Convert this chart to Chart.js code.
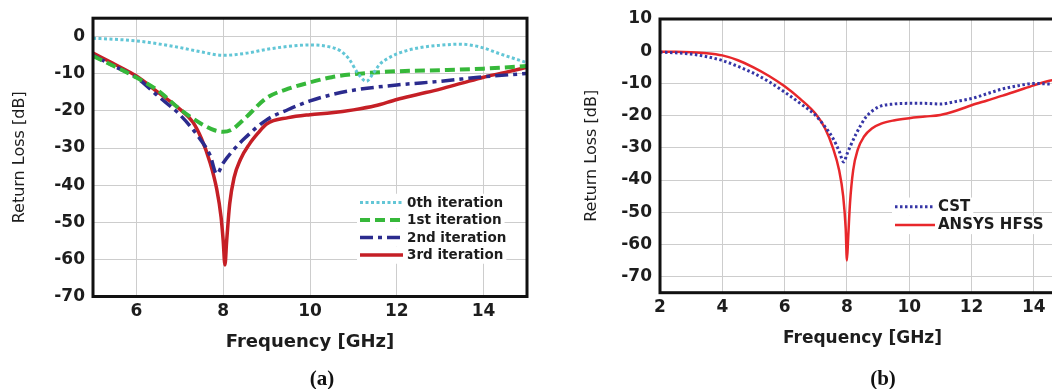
<!DOCTYPE html>
<html>
<head>
<meta charset="utf-8">
<script src="https://cdn.jsdelivr.net/npm/chart.js@4.4.0/dist/chart.umd.min.js"></script>
<style>
  html, body { margin: 0; padding: 0; background: #fff; }
  body { width: 1052px; height: 389px; overflow: hidden; position: relative; }
  canvas { position: absolute; top: 0; }
  #chartIter { left: 0; }
  #chartSolver { left: 540px; }
  .caption { position: absolute; top: 364px; width: 60px; text-align: center;
             font: bold 21px 'Liberation Serif', 'Times New Roman', serif; color: #111; line-height: 28px; }
</style>
</head>
<body>
<canvas id="chartIter" width="540" height="389"></canvas>
<canvas id="chartSolver" width="560" height="389"></canvas>
<div class="caption" style="left:292px">(a)</div>
<div class="caption" style="left:853px">(b)</div>
<script>
'use strict';

// ─── Data: return loss (dB) vs frequency (GHz) ────────────────────────────────

// (a) fractal iterations
const F_ITER0  = [5, 5.5, 6, 6.5, 7, 7.5, 8, 8.5, 9, 9.5, 10, 10.4, 10.7, 10.9, 11.1, 11.3, 11.45, 11.6, 11.8, 12.1, 12.5, 13, 13.45, 13.9, 14.4, 15];
const RL_ITER0 = [-0.4, -0.7, -1.1, -1.9, -2.9, -4.1, -5, -4.5, -3.4, -2.6, -2.2, -2.6, -3.8, -6, -9.8, -12, -10, -7.5, -5.8, -4.2, -3, -2.3, -2, -2.7, -4.7, -7];

const F_ITER1  = [5, 5.5, 6, 6.5, 7, 7.5, 7.8, 8, 8.2, 8.5, 9, 9.5, 10, 10.5, 11, 12, 13, 14, 15];
const RL_ITER1 = [-5.2, -8, -11, -14.5, -19.5, -23.5, -25.2, -25.6, -25, -22, -16.5, -14, -12.3, -10.9, -10.1, -9.3, -9, -8.6, -7.9];

const F_ITER2  = [5, 5.5, 6, 6.5, 7, 7.4, 7.7, 7.85, 8, 8.2, 8.5, 9, 9.5, 10, 10.5, 11, 12, 13, 14, 15];
const RL_ITER2 = [-5, -8, -11, -16, -21, -26.5, -32, -37, -34, -31, -27.3, -22.4, -19.6, -17.3, -15.6, -14.4, -13, -12, -10.8, -9.9];

const F_ITER3  = [5, 5.5, 6, 6.5, 7, 7.3, 7.5, 7.7, 7.85, 7.95, 8.0, 8.04, 8.08, 8.15, 8.25, 8.4, 8.6, 8.8, 9, 9.5, 10, 10.5, 11, 11.5, 12, 12.5, 13, 13.5, 14, 14.5, 15];
const RL_ITER3 = [-4.4, -7.4, -10.6, -15, -19.5, -23, -27.5, -34, -41, -48.5, -55, -61.5, -55, -45, -38, -33, -29, -26, -23.5, -21.8, -21, -20.5, -19.7, -18.6, -16.9, -15.5, -14.1, -12.5, -10.9, -9.6, -8.2];

const ITER_LABELS = ['0th iteration', '1st iteration', '2nd iteration', '3rd iteration'];

// (b) solver comparison
const F_CST  = [2, 2.5, 3, 3.5, 4, 4.5, 5, 5.5, 6, 6.5, 7, 7.3, 7.55, 7.75, 7.9, 8.0, 8.1, 8.3, 8.6, 9, 9.5, 10, 10.5, 11, 11.5, 12, 12.5, 13, 13.5, 14, 14.5, 15];
const RL_CST = [-0.3, -0.5, -0.9, -1.7, -2.9, -4.7, -6.8, -9.5, -12.7, -16.2, -20, -23.5, -27, -31, -34.4, -32, -29.7, -25.6, -20.6, -17.4, -16.4, -16.2, -16.2, -16.4, -15.6, -14.7, -13.2, -11.7, -10.7, -10, -10.2, -10.4];

const F_HFSS  = [2, 2.5, 3, 3.5, 4, 4.5, 5, 5.5, 6, 6.5, 7, 7.3, 7.55, 7.75, 7.88, 7.96, 8.0, 8.04, 8.1, 8.2, 8.35, 8.55, 8.8, 9.1, 9.5, 10, 10.5, 11, 11.5, 12, 12.5, 13, 13.5, 14, 14.5, 15];
const RL_HFSS = [-0.2, -0.2, -0.3, -0.6, -1.3, -2.8, -5, -7.7, -10.9, -14.8, -19.5, -24, -30, -37, -45, -55, -65, -58, -47, -37, -30.5, -26.5, -24, -22.5, -21.5, -20.8, -20.3, -19.8, -18.5, -16.8, -15.3, -13.8, -12.2, -10.6, -9.2, -8.2];

const SOLVER_LABELS = ['CST', 'ANSYS HFSS'];

// axis ticks
const X_TICKS_A = [6, 8, 10, 12, 14];
const Y_TICKS_A = [0, -10, -20, -30, -40, -50, -60, -70];
const X_TICKS_B = [2, 4, 6, 8, 10, 12, 14];
const Y_TICKS_B = [10, 0, -10, -20, -30, -40, -50, -60, -70];

// ─── Styling helpers ──────────────────────────────────────────────────────────

const FONT = "'DejaVu Sans', 'Liberation Sans', sans-serif";
const INK = '#1d1d1d';
const GRID = '#cdcdcd';

const toPoints = (xs, ys) => xs.map((x, i) => ({ x, y: ys[i] }));
const fixedTicks = list => scale => { scale.ticks = list.map(v => ({ value: v })); };

function series(label, xs, ys, color, width, dash) {
    return {
        label,
        data: toPoints(xs, ys),
        borderColor: color,
        backgroundColor: color,
        borderWidth: width,
        borderDash: dash,
        pointRadius: 0,
        cubicInterpolationMode: 'monotone',
        fill: false,
    };
}

// thick black box round the plot area
const plotFrame = {
    id: 'plotFrame',
    afterDatasetsDraw(chart, args, opts) {
        const { ctx, chartArea: a } = chart;
        ctx.save();
        ctx.strokeStyle = opts.color;
        ctx.lineWidth = opts.width;
        ctx.strokeRect(a.left, a.top, a.right - a.left, a.bottom - a.top);
        ctx.restore();
    }
};

// legend drawn inside the plot, each row on a white strip
const insetLegend = {
    id: 'insetLegend',
    afterDatasetsDraw(chart, args, opts) {
        const { ctx } = chart;
        const sets = chart.data.datasets;
        ctx.save();
        ctx.font = `bold ${opts.size}px ${FONT}`;
        ctx.textBaseline = 'middle';
        const tx = opts.x + opts.sample + opts.gap;
        sets.forEach((ds, i) => {
            const y = opts.y + i * opts.rowGap;
            const w = ctx.measureText(ds.label).width;
            ctx.fillStyle = '#fff';
            ctx.fillRect(opts.x - 3, y - opts.rowGap / 2, tx + w + 3 - (opts.x - 3), opts.rowGap);
        });
        sets.forEach((ds, i) => {
            const y = opts.y + i * opts.rowGap;
            ctx.strokeStyle = ds.borderColor;
            ctx.lineWidth = ds.borderWidth;
            ctx.setLineDash(ds.borderDash || []);
            ctx.beginPath();
            ctx.moveTo(opts.x, y);
            ctx.lineTo(opts.x + opts.sample, y);
            ctx.stroke();
            ctx.setLineDash([]);
            ctx.fillStyle = INK;
            ctx.fillText(ds.label, tx, y + 0.5);
        });
        ctx.restore();
    }
};

function makeScales(cfg) {
    return {
        x: {
            type: 'linear', min: cfg.xMin, max: cfg.xMax,
            afterBuildTicks: fixedTicks(cfg.xTicks),
            afterFit: s => { s.height = cfg.xHeight; },
            grid: { color: GRID, lineWidth: 1, drawTicks: false },
            border: { display: false },
            ticks: { color: INK, padding: 5, maxRotation: 0, font: { family: FONT, size: 17, weight: 'bold' } },
            title: {
                display: true, text: 'Frequency [GHz]', color: INK,
                font: { family: FONT, size: cfg.xTitleSize, weight: 'bold' },
                padding: { top: 0, bottom: cfg.xTitlePad },
            },
        },
        y: {
            type: 'linear', min: cfg.yMin, max: cfg.yMax,
            afterBuildTicks: fixedTicks(cfg.yTicks),
            afterFit: s => { s.width = cfg.yWidth; },
            grid: { color: GRID, lineWidth: 1, drawTicks: false },
            border: { display: false },
            ticks: { color: INK, padding: 8, font: { family: FONT, size: 17, weight: 'bold' } },
            title: {
                display: true, text: 'Return Loss [dB]', color: INK,
                font: { family: FONT, size: 16 },
                padding: { top: cfg.yTitlePad, bottom: 0 },
            },
        },
    };
}

function makeChart(canvasId, datasets, cfg) {
    return new Chart(document.getElementById(canvasId), {
        type: 'line',
        data: { datasets },
        plugins: [plotFrame, insetLegend],
        options: {
            responsive: false, animation: false, devicePixelRatio: 1,
            layout: { padding: cfg.padding },
            scales: makeScales(cfg),
            plugins: {
                legend: { display: false },
                tooltip: { enabled: false },
                plotFrame: { color: '#111', width: 3 },
                insetLegend: cfg.legend,
            },
        },
    });
}

// ─── Panels ───────────────────────────────────────────────────────────────────

makeChart('chartIter', [
    series(ITER_LABELS[0], F_ITER0, RL_ITER0, '#62c6d6', 3, [3, 2.5]),
    series(ITER_LABELS[1], F_ITER1, RL_ITER1, '#36b83a', 4, [10, 5]),
    series(ITER_LABELS[2], F_ITER2, RL_ITER2, '#2b2b8e', 3.5, [13, 5, 4, 5]),
    series(ITER_LABELS[3], F_ITER3, RL_ITER3, '#c51f26', 3.5, []),
], {
    xMin: 5, xMax: 15, xTicks: X_TICKS_A,
    yMin: -70, yMax: 5, yTicks: Y_TICKS_A,
    padding: { top: 17.5, right: 13, bottom: 0, left: 0 },
    xHeight: 92.5, yWidth: 93,
    xTitleSize: 18, xTitlePad: 36,
    yTitlePad: 10.4,
    legend: { x: 360, y: 202.5, rowGap: 17.5, sample: 43, gap: 4, size: 13.5 },
});

makeChart('chartSolver', [
    series(SOLVER_LABELS[0], F_CST, RL_CST, '#3636a6', 3, [2.5, 2.5]),
    series(SOLVER_LABELS[1], F_HFSS, RL_HFSS, '#e8272b', 2.5, []),
], {
    xMin: 2, xMax: 15, xTicks: X_TICKS_B,
    yMin: -75, yMax: 10, yTicks: Y_TICKS_B,
    padding: { top: 19, right: 35, bottom: 0, left: 0 },
    xHeight: 96.3, yWidth: 120,
    xTitleSize: 17, xTitlePad: 40,
    yTitlePad: 42.4,
    legend: { x: 355, y: 206.7, rowGap: 18.3, sample: 40, gap: 3, size: 15 },
});
</script>
</body>
</html>
